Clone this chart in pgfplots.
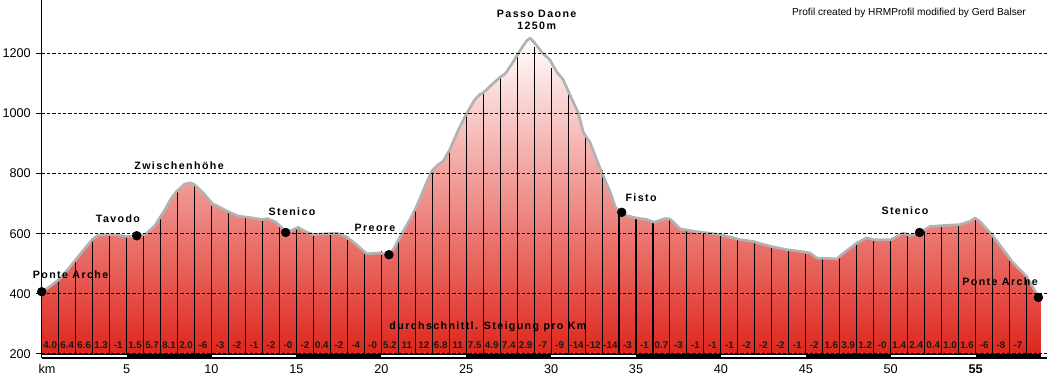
\documentclass[border=0pt]{standalone}
\usepackage{fontspec}
\setmainfont{Liberation Sans}
\newfontfamily\lblfont{Liberation Sans}[LetterSpace=13]
\usepackage{pgfplots}
\pgfplotsset{compat=1.18}
\usepackage{pgfplotstable}

\definecolor{profred}{RGB}{222,38,28}
\definecolor{outlinegray}{RGB}{178,178,178}

\newcommand{\lbl}{\lblfont\bfseries\fontsize{8}{9}\selectfont}
\newcommand{\grd}{\bfseries\fontsize{7.3}{8}\selectfont}

% elevation profile (km, m)
\pgfplotstableread{
km elev
0.00 405
0.50 425
1.00 447
1.50 478
2.00 513
2.50 548
3.00 582
3.33 595
4.00 597
4.50 595
5.00 591
5.40 590
5.60 593
6.10 597
6.67 627
7.00 657
7.27 680
7.60 715
7.95 741
8.40 764
8.73 769
9.00 763
9.52 735
10.05 700
10.50 687
11.10 670
11.60 658
12.20 654
13.00 647
13.30 650
13.80 638
14.10 622
14.40 606
14.70 610
15.10 621
15.60 605
16.00 597
16.50 599
17.20 601
17.50 600
17.96 589
18.55 563
19.14 533
19.92 536
20.45 530
20.71 547
21.10 589
21.69 647
22.08 691
22.58 758
22.97 808
23.36 830
23.65 841
24.04 880
24.50 940
25.00 997
25.50 1045
25.80 1063
26.00 1068
26.50 1095
27.00 1120
27.30 1132
27.70 1165
28.00 1193
28.30 1220
28.56 1241
28.76 1250
29.00 1236
29.50 1200
29.93 1178
30.30 1140
30.70 1113
31.20 1050
31.60 1002
31.90 937
32.30 902
32.90 815
33.50 735
33.80 686
34.16 671
34.40 661
35.00 652
35.65 647
36.05 638
36.70 650
37.00 649
37.60 616
38.40 608
39.95 597
40.72 586
41.13 580
41.91 574
42.30 567
43.08 556
43.87 547
44.66 541
45.25 536
45.64 519
46.82 516
47.11 530
48.00 569
48.59 586
48.98 580
50.00 580
50.74 602
51.14 593
51.73 604
52.32 624
53.10 627
54.08 630
54.66 641
54.96 652
55.25 641
56.04 591
57.22 502
58.00 458
58.58 402
58.70 388
58.85 385
}\profile

% tops of the km lines
\pgfplotstableread{
km top
1 447
2 513
3 582
4 596
5 591
6 593
7 657
8 741
9 763
10 693
11 674
12 654
13 644
14 622
15 617
16 597
17 599
18 580
19 534
20 541
21 580
22 689
23 811
24 877
25 997
26 1066
27 1122
28 1193
29 1222
30 1150
31 1063
32 924
33 811
34 669
35 650
36 641
37 647
38 613
39 600
40 593
41 585
42 574
43 556
44 541
45 533
46 516
47 524
48 569
49 582
50 582
51 597
52 617
53 624
54 630
55 652
56 589
57 508
58 441
}\kmlines

% average gradient per km
\pgfplotstableread{
x y t
0.5 216 4.0
1.5 216 6.4
2.5 216 6.6
3.5 216 1.3
4.5 216 -1
5.5 216 1.5
6.5 216 5.7
7.5 216 8.1
8.5 216 2.0
9.5 216 -6
10.5 216 -3
11.5 216 -2
12.5 216 -1
13.5 216 -2
14.5 216 -0
15.5 216 -2
16.5 216 0.4
17.5 216 -2
18.5 216 -4
19.5 216 -0
20.5 216 5.2
21.5 216 11
22.5 216 12
23.5 216 6.8
24.5 216 11
25.5 216 7.5
26.5 216 4.9
27.5 216 7.4
28.5 216 2.9
29.5 216 -7
30.5 216 -9
31.5 216 -14
32.5 216 -12
33.5 216 -14
34.5 216 -3
35.5 216 -1
36.5 216 0.7
37.5 216 -3
38.5 216 -1
39.5 216 -1
40.5 216 -1
41.5 216 -2
42.5 216 -2
43.5 216 -2
44.5 216 -1
45.5 216 -2
46.5 216 1.6
47.5 216 3.9
48.5 216 1.2
49.5 216 -0
50.5 216 1.4
51.5 216 2.4
52.5 216 0.4
53.5 216 1.0
54.5 216 1.6
55.5 216 -6
56.5 216 -8
57.5 216 -7
}\grads

% waypoints
\pgfplotstableread{
km elev
0.00 407
5.60 593
14.37 604
20.45 530
34.16 671
51.70 604
58.70 388
}\points

\begin{document}
\begin{tikzpicture}
\useasboundingbox (0,0) rectangle (785.25pt,281.25pt);
\begin{axis}[
  at={(31.275pt,12.75pt)}, anchor=south west,
  scale only axis, width=753.975pt, height=268.5pt,
  xmin=0, xmax=59.205, ymin=186.67, ymax=1376.67,
  clip mode=individual,
  axis x line=bottom, axis y line=left,
  axis line style={-, black, line width=1.1pt},
  tick align=outside,
  ytick style={black, line width=0.75pt},
  major tick length=4.5pt,
  xtick style={draw=none},
  ytick={200,400,600,800,1000,1200},
  ymajorgrids,
  grid style={black, line width=0.75pt, dash pattern=on 2.5pt off 1.5pt},
  xtick={0.31,5,10,15,20,25,30,35,40,45,50,55},
  xticklabels={km,5,10,15,20,25,30,35,40,45,50,\textbf{55}},
  tick label style={font=\fontsize{9.5}{11}\selectfont, text=black},
  yticklabel style={anchor=east, inner sep=0pt, xshift=-3.5pt},
  yticklabel style={/pgf/number format/1000 sep={}},
  xticklabel style={anchor=base, inner sep=0pt, yshift=-7pt},
  /pgf/number format/assume math mode=true,
  axis on top,
]
% shaded profile
\addplot[draw=none, top color=white, bottom color=profred] table[x=km,y=elev] {\profile} -- (axis cs:58.85,200) -- (axis cs:0,200) -- cycle;
% km lines
\addplot[ycomb, black, line width=0.8pt, mark=none] table[x=km,y=top] {\kmlines};
% outline
\addplot[outlinegray, line width=2pt, line join=round] table[x=km,y=elev] {\profile};
% km bar
\addplot[fill=black, draw=none] coordinates {(0,186.67)(58.85,186.67)(58.85,200)(0,200)} -- cycle;
\addplot[fill=white, draw=none] coordinates {(0,190)(5,190)(5,196.67)(0,196.67)} -- cycle;
\addplot[fill=white, draw=none] coordinates {(10,190)(15,190)(15,196.67)(10,196.67)} -- cycle;
\addplot[fill=white, draw=none] coordinates {(20,190)(25,190)(25,196.67)(20,196.67)} -- cycle;
\addplot[fill=white, draw=none] coordinates {(30,190)(35,190)(35,196.67)(30,196.67)} -- cycle;
\addplot[fill=white, draw=none] coordinates {(40,190)(45,190)(45,196.67)(40,196.67)} -- cycle;
\addplot[fill=white, draw=none] coordinates {(50,190)(55,190)(55,196.67)(50,196.67)} -- cycle;
% gradient labels
\addplot[draw=none, mark=none, nodes near coords, point meta=explicit symbolic,
  nodes near coords style={font=\grd, text=black!90, inner sep=0pt}]
  table[x=x,y=y,meta=t] {\grads};
% waypoints
\addplot[only marks, mark=*, mark size=3.3pt, black] table[x=km,y=elev] {\points};
% labels
\node[font=\lbl] at (axis cs:1.70,463) {Ponte Arche};
\node[font=\lbl] at (axis cs:4.49,650) {Tavodo};
\node[font=\lbl] at (axis cs:8.09,827) {Zwischenhöhe};
\node[font=\lbl] at (axis cs:14.74,673) {Stenico};
\node[font=\lbl] at (axis cs:19.63,619) {Preore};
\node[font=\lbl, align=center] at (axis cs:29.15,1310) {Passo Daone\\1250m};
\node[font=\lbl] at (axis cs:35.3,720) {Fisto};
\node[font=\lbl] at (axis cs:50.84,677) {Stenico};
\node[font=\lbl] at (axis cs:56.44,440) {Ponte Arche};
\node[font=\lbl] at (axis cs:26.28,290) {durchschnittl. Steigung pro Km};
\node[font=\fontsize{7.6}{8}\selectfont] at (axis cs:51.08,1333) {Profil created by HRMProfil modified by Gerd Balser};
\end{axis}
\end{tikzpicture}
\end{document}
